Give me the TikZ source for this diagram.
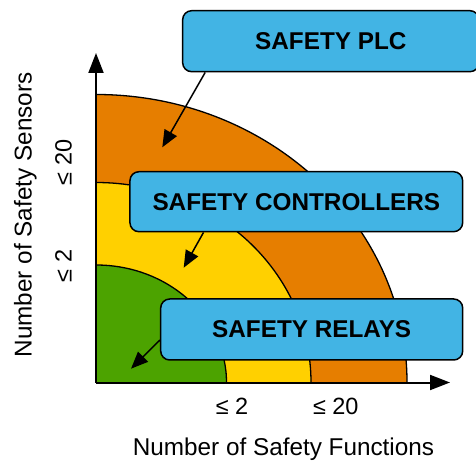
\documentclass[tikz,border=0pt]{standalone}
\usepackage{fontspec}
\setmainfont{Liberation Sans}
\usetikzlibrary{arrows.meta}
\definecolor{cOrange}{RGB}{230,126,0}
\definecolor{cYellow}{RGB}{255,208,0}
\definecolor{cGreen}{RGB}{76,163,0}
\definecolor{cBlue}{RGB}{66,180,228}
\begin{document}
\begin{tikzpicture}[x=1pt,y=1pt,
  zone/.style={draw=black,line width=1.3pt},
  box/.style={draw=black,fill=cBlue,line width=1.5pt,rounded corners=9pt,inner sep=0pt,
    font=\fontsize{24.3}{28}\selectfont\bfseries},
  pointer/.style={line width=1.5pt,-{Triangle[length=17pt,width=14pt]}},
  axis/.style={line width=2pt,-{Triangle[length=20pt,width=15pt]}},
  lbl/.style={font=\fontsize{23.5}{28}\selectfont,inner sep=0pt,anchor=base},
  ttl/.style={font=\fontsize{24.3}{28}\selectfont,inner sep=0pt,anchor=base}]
\useasboundingbox (0,0) rectangle (476,463);
\coordinate (O) at (96,80.5);
% zones
\fill[cOrange] (O) -- (407,80.5) arc[start angle=0,end angle=90,x radius=311,y radius=288] -- cycle;
\fill[cYellow] (O) -- (311,80.5) arc[start angle=0,end angle=90,x radius=215,y radius=200] -- cycle;
\fill[cGreen] (O) -- (226.5,80.5) arc[start angle=0,end angle=90,x radius=130.5,y radius=117.5] -- cycle;
\draw[zone] (407,80.5) arc[start angle=0,end angle=90,x radius=311,y radius=288];
\draw[zone] (311,80.5) arc[start angle=0,end angle=90,x radius=215,y radius=200];
\draw[zone] (226.5,80.5) arc[start angle=0,end angle=90,x radius=130.5,y radius=117.5];
% axes
\coordinate (yEnd) at (96,410);
\coordinate (xEnd) at (450,80.5);
\draw[axis] (O) -- (yEnd);
\draw[axis] (O) -- (xEnd);
% boxes
\node[box,minimum width=296.3pt,minimum height=61pt] (plc) at (330.8,421.8) {SAFETY PLC};
\node[box,minimum width=332.7pt,minimum height=60pt] (ctrl) at (296.3,261.3) {SAFETY CONTROLLERS};
\node[box,minimum width=302pt,minimum height=61pt] (rel) at (311.7,133.5) {SAFETY RELAYS};
% pointers
\coordinate (t1) at (162.3,315.7);
\coordinate (t2) at (183.7,195.3);
\coordinate (t3) at (131,94.3);
\draw[pointer] ([xshift=23.3pt]plc.south west) -- (t1);
\draw[pointer] ([xshift=74.3pt]ctrl.south west) -- (t2);
\draw[pointer] ([yshift=-10.5pt]rel.west) -- (t3);
% labels
\node[lbl] (x2) at (232,48.7) {≤ 2};
\node[lbl] (x20) at (335.8,48.7) {≤ 20};
\node[lbl,rotate=90] (y2) at (71.7,197) {≤ 2};
\node[lbl,rotate=90] (y20) at (71.7,300.5) {≤ 20};
\node[ttl] (xt) at (283.5,8) {Number of Safety Functions};
\node[ttl,rotate=90] (yt) at (31.7,248) {Number of Safety Sensors};
\end{tikzpicture}
\end{document}
